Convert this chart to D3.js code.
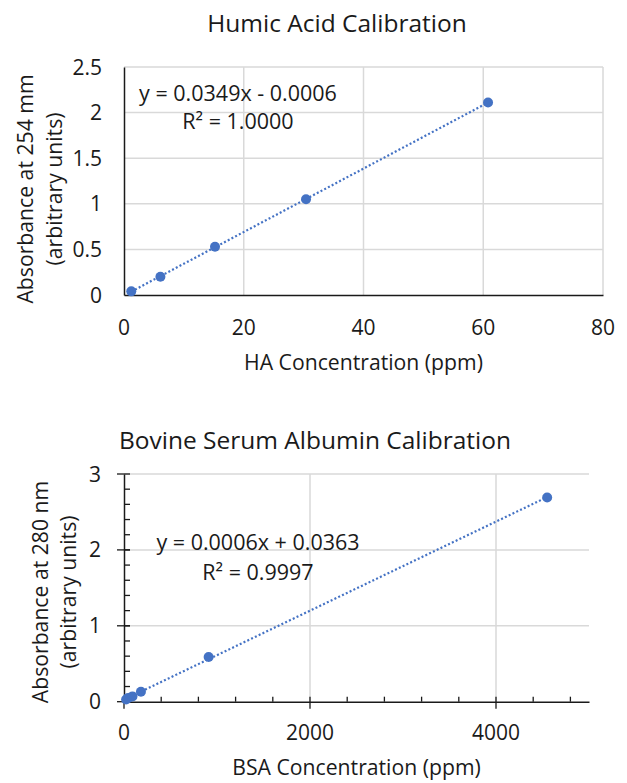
<!DOCTYPE html>
<html>
<head>
<meta charset="utf-8">
<script src="https://cdn.jsdelivr.net/npm/d3@7"></script>
<style>
  body { margin: 0; background: #fff; }
  svg text { font-family: "Open Sans", "Noto Sans", sans-serif; fill: #1a1a1a; }
</style>
</head>
<body>
<div id="container"></div>
<script>
// humic acid standards
const haConc = [1.216, 6.08, 15.2, 30.4, 60.8];
const haAbs = [0.04, 0.2, 0.53, 1.05, 2.11];
const haXTicks = [0, 20, 40, 60, 80];
const haYTicks = [0, 0.5, 1, 1.5, 2, 2.5];
const haEquation = ["y = 0.0349x - 0.0006", "R² = 1.0000"];

// bovine serum albumin standards
const bsaConc = [22.75, 45.5, 91, 182, 910, 4550];
const bsaAbs = [0.03, 0.05, 0.07, 0.13, 0.59, 2.69];
const bsaXTicks = [0, 2000, 4000];
const bsaYTicks = [0, 1, 2, 3];
const bsaEquation = ["y = 0.0006x + 0.0363", "R² = 0.9997"];

const blue = "#4472c4";
const gridColor = "#d9d9d9";
const axisColor = "#1a1a1a";

const svg = d3.select("#container").append("svg")
    .attr("width", 627)
    .attr("height", 783);

function leastSquares(xs, ys) {
    const mx = d3.mean(xs), my = d3.mean(ys);
    const sxy = d3.sum(xs, (x, i) => (x - mx) * (ys[i] - my));
    const sxx = d3.sum(xs, x => (x - mx) * (x - mx));
    const slope = sxy / sxx;
    return { slope, intercept: my - slope * mx };
}

function drawCalibration(o) {
    const g = svg.append("g");
    const x = d3.scaleLinear().domain(o.xDomain).range([o.left, o.right]);
    const y = d3.scaleLinear().domain(o.yDomain).range([o.bottom, o.top]);

    // gridlines
    g.selectAll(".hgrid")
        .data(o.yTicks.filter(d => d > 0))
        .enter().append("line")
        .attr("x1", o.left).attr("x2", o.right)
        .attr("y1", d => y(d)).attr("y2", d => y(d))
        .attr("stroke", gridColor).attr("stroke-width", 1.5);
    g.selectAll(".vgrid")
        .data(o.xTicks.filter(d => d > 0))
        .enter().append("line")
        .attr("x1", d => x(d)).attr("x2", d => x(d))
        .attr("y1", o.top).attr("y2", o.bottom)
        .attr("stroke", gridColor).attr("stroke-width", 1.5);

    // axis lines; tick marks added below so major/minor can cross or sit inside like Excel
    const xAxis = d3.axisBottom(x).tickValues(o.xTicks).tickSize(0).tickFormat("");
    const yAxis = d3.axisLeft(y).tickValues(o.yTicks).tickSize(0).tickFormat("");
    g.append("g").attr("transform", `translate(0,${o.bottom})`).call(xAxis)
        .call(a => a.select(".domain").attr("stroke", axisColor).attr("stroke-width", 1.5));
    g.append("g").attr("transform", `translate(${o.left},0)`).call(yAxis)
        .call(a => a.select(".domain").attr("stroke", axisColor).attr("stroke-width", 1.5));

    if (o.ticks) {
        g.selectAll(".xminor").data(o.xMinor).enter().append("line")
            .attr("x1", d => x(d)).attr("x2", d => x(d))
            .attr("y1", o.bottom - 5).attr("y2", o.bottom)
            .attr("stroke", axisColor).attr("stroke-width", 1.3);
        g.selectAll(".xmajor").data(o.xTicks).enter().append("line")
            .attr("x1", d => x(d)).attr("x2", d => x(d))
            .attr("y1", o.bottom - 5).attr("y2", o.bottom + 7)
            .attr("stroke", axisColor).attr("stroke-width", 1.3);
        g.selectAll(".yminor").data(o.yMinor).enter().append("line")
            .attr("x1", o.left).attr("x2", o.left + 6)
            .attr("y1", d => y(d)).attr("y2", d => y(d))
            .attr("stroke", axisColor).attr("stroke-width", 1.3);
        g.selectAll(".ymajor").data(o.yTicks).enter().append("line")
            .attr("x1", o.left - 7).attr("x2", o.left + 6)
            .attr("y1", d => y(d)).attr("y2", d => y(d))
            .attr("stroke", axisColor).attr("stroke-width", 1.3);
    }

    // tick labels
    g.selectAll(".xlab").data(o.xTicks).enter().append("text")
        .attr("x", d => x(d)).attr("y", o.xLabelY)
        .attr("text-anchor", "middle").attr("font-size", 21)
        .text(d => d);
    g.selectAll(".ylab").data(o.yTicks).enter().append("text")
        .attr("x", o.yLabelX).attr("y", d => y(d)).attr("dy", "0.36em")
        .attr("text-anchor", "end").attr("font-size", 21)
        .text(d => d);

    // linear trendline
    const fit = leastSquares(o.xs, o.ys);
    const ends = d3.extent(o.xs);
    g.append("line")
        .attr("x1", x(ends[0])).attr("y1", y(fit.intercept + fit.slope * ends[0]))
        .attr("x2", x(ends[1])).attr("y2", y(fit.intercept + fit.slope * ends[1]))
        .attr("stroke", blue).attr("stroke-width", 2.2)
        .attr("stroke-dasharray", "2 2.2");

    g.selectAll("circle").data(o.xs).enter().append("circle")
        .attr("cx", d => x(d)).attr("cy", (d, i) => y(o.ys[i]))
        .attr("r", 5).attr("fill", blue);

    // equation
    o.equation.forEach((t, i) => {
        g.append("text")
            .attr("x", o.eqX).attr("y", o.eqY + i * o.eqGap)
            .attr("text-anchor", "middle").attr("font-size", 21.5)
            .text(t);
    });

    // titles
    g.append("text")
        .attr("x", o.titleX).attr("y", o.titleY)
        .attr("text-anchor", "middle").attr("font-size", 24.5)
        .text(o.title);
    g.append("text")
        .attr("x", (o.left + o.right) / 2).attr("y", o.xTitleY)
        .attr("text-anchor", "middle").attr("font-size", 21.2)
        .text(o.xTitle);
    o.yTitle.forEach((t, i) => {
        g.append("text")
            .attr("transform", `translate(${o.yTitleX[i]},${o.yTitleY}) rotate(-90)`)
            .attr("text-anchor", "middle").attr("font-size", 21.2)
            .text(t);
    });
}

drawCalibration({
    xs: haConc, ys: haAbs,
    xDomain: [0, 80], yDomain: [0, 2.5],
    xTicks: haXTicks, yTicks: haYTicks,
    left: 124, right: 603, top: 67, bottom: 295,
    ticks: false,
    xLabelY: 335, yLabelX: 102,
    equation: haEquation, eqX: 238, eqY: 101, eqGap: 28,
    title: "Humic Acid Calibration", titleX: 337, titleY: 32,
    xTitle: "HA Concentration (ppm)", xTitleY: 370,
    yTitle: ["Absorbance at 254 mm", "(arbitrary units)"], yTitleX: [33, 62], yTitleY: 189
});

drawCalibration({
    xs: bsaConc, ys: bsaAbs,
    xDomain: [0, 5000], yDomain: [0, 3],
    xTicks: bsaXTicks, yTicks: bsaYTicks,
    xMinor: d3.range(400, 5000, 400).filter(d => d % 2000 !== 0),
    yMinor: d3.range(0.2, 3, 0.2),
    left: 124, right: 589, top: 474, bottom: 701.7,
    ticks: true,
    xLabelY: 740, yLabelX: 101,
    equation: bsaEquation, eqX: 258, eqY: 550, eqGap: 30,
    title: "Bovine Serum Albumin Calibration", titleX: 315, titleY: 449,
    xTitle: "BSA Concentration (ppm)", xTitleY: 775,
    yTitle: ["Absorbance at 280 nm", "(arbitrary units)"], yTitleX: [48, 76], yTitleY: 592
});
</script>
</body>
</html>
